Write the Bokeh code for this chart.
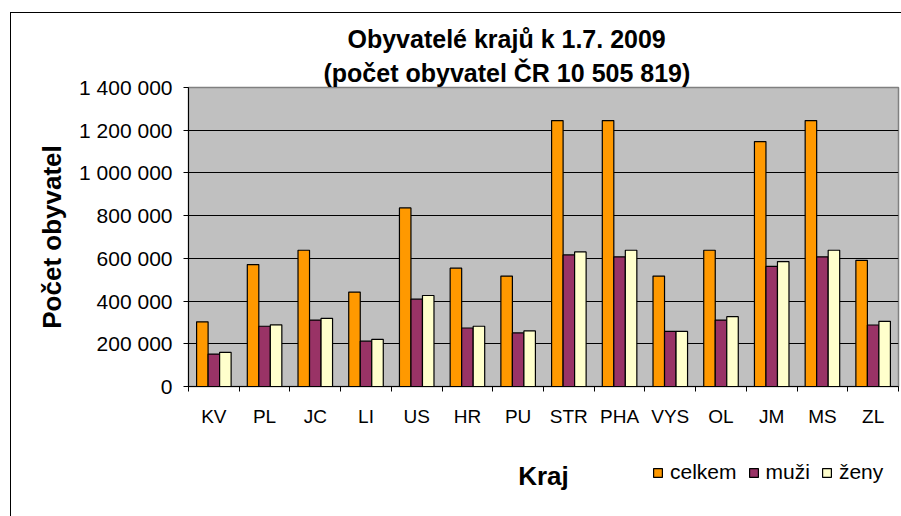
from bokeh.plotting import figure
from bokeh.models import ColumnDataSource, Range1d, FixedTicker, Title, Label, Legend, LegendItem
from bokeh.layouts import column
from bokeh.transform import dodge
from bokeh.embed import file_html
from bokeh.resources import INLINE

categories = ["KV", "PL", "JC", "LI", "US", "HR", "PU", "STR", "PHA", "VYS", "OL", "JM", "MS", "ZL"]
celkem = [303000, 571000, 638000, 442000, 836000, 554000, 517000, 1245000, 1245000, 517000, 638000, 1147000, 1245000, 591000]
muzi = [152000, 282000, 311000, 212000, 409000, 274000, 251000, 616000, 607000, 258000, 311000, 562000, 607000, 288000]
zeny = [160000, 289000, 319000, 221000, 426000, 282000, 260000, 630000, 638000, 258000, 327000, 585000, 638000, 305000]
y_ticks = [0, 200000, 400000, 600000, 800000, 1000000, 1200000, 1400000]
series_keys = ["celkem", "muzi", "zeny"]
series_names = ["celkem", "muži", "ženy"]
series_colors = ["#FF9900", "#993366", "#FFFFCC"]

FONT = "Liberation Sans"
xpos = list(range(1, len(categories) + 1))
src = ColumnDataSource(dict(x=xpos, celkem=celkem, muzi=muzi, zeny=zeny))

W = 890
BL, BR = 177, 3
p = figure(width=W, height=427, output_backend="svg", toolbar_location=None,
           x_range=Range1d(0.5, len(categories) + 0.5), y_range=Range1d(0, y_ticks[-1]),
           min_border_left=BL, min_border_top=74, min_border_bottom=54, min_border_right=BR)
p.background_fill_color = "#C0C0C0"
p.border_fill_color = "white"
p.outline_line_color = "#808080"
p.outline_line_width = 1.5

w = 0.227
for key, off, col in zip(series_keys, [-w, 0, w], series_colors):
    p.vbar(x=dodge("x", off, range=p.x_range), top=key, width=w, source=src,
           fill_color=col, line_color="black", line_width=1.2)

# titles (first added is closest to frame)
p.add_layout(Title(text="(počet obyvatel ČR 10 505 819)", align="left", offset=135,
                   text_font=FONT, text_font_size="25px", text_font_style="bold",
                   text_color="black", standoff=2), "above")
p.add_layout(Title(text="Obyvatelé krajů k 1.7. 2009", align="left", offset=159,
                   text_font=FONT, text_font_size="25px", text_font_style="bold",
                   text_color="black", standoff=5), "above")

# x axis: labels at category centres, ticks between categories
xa = p.xaxis[0]
xa.ticker = FixedTicker(ticks=xpos, minor_ticks=[v - 0.5 for v in xpos] + [len(categories) + 0.5])
xa.major_label_overrides = {v: c for v, c in zip(xpos, categories)}
xa.major_tick_out = 0
xa.major_tick_in = 0
xa.minor_tick_out = 5
xa.minor_tick_in = 0
xa.minor_tick_line_color = "black"
xa.major_label_standoff = 14
xa.major_label_text_font = FONT
xa.major_label_text_font_size = "19px"
xa.major_label_text_color = "black"
xa.axis_line_color = "black"

# y axis
ya = p.yaxis[0]
ya.ticker = FixedTicker(ticks=y_ticks, minor_ticks=[])
ya.major_label_overrides = {v: f"{v:,}".replace(",", " ") for v in y_ticks}
ya.major_tick_out = 5
ya.major_tick_in = 0
ya.major_tick_line_color = "black"
ya.major_label_standoff = 11
ya.major_label_text_font = FONT
ya.major_label_text_font_size = "21px"
ya.major_label_text_color = "black"
ya.axis_line_color = "black"
ya.axis_label = "Počet obyvatel"
ya.axis_label_text_font = FONT
ya.axis_label_text_font_size = "26px"
ya.axis_label_text_font_style = "bold"
ya.axis_label_standoff = 9
ya.axis_label_text_color = "black"

p.xgrid.grid_line_color = None
p.ygrid.grid_line_color = "black"
p.ygrid.grid_line_width = 1

# bottom strip: x-axis title and legend (frame aligned with the main plot's frame)
QH = 76
q = figure(width=W, height=QH, output_backend="svg", toolbar_location=None,
           x_range=Range1d(BL, W - BR), y_range=Range1d(0, QH),
           min_border_left=BL, min_border_right=BR, min_border_top=0, min_border_bottom=0)
q.axis.visible = False
q.grid.grid_line_color = None
q.outline_line_color = None
q.background_fill_color = "white"
q.border_fill_color = "white"

# hidden proxies of the bar series, used only for the legend swatches
items = []
for key, name, col in zip(series_keys, series_names, series_colors):
    r = q.vbar(x="x", top=key, width=w, source=src, fill_color=col,
               line_color="black", line_width=1.2, visible=False)
    items.append(LegendItem(label=name, renderers=[r]))

lg = Legend(items=items, orientation="horizontal", location=(464, 32),
            margin=0, padding=0, spacing=11, glyph_width=11, glyph_height=11,
            label_standoff=7, label_text_font=FONT, label_text_font_size="21px",
            label_text_color="black", border_line_color=None, background_fill_alpha=0,
            inactive_fill_alpha=0)
q.add_layout(lg, "center")

q.add_layout(Label(x=532, y=41, text="Kraj", text_align="center", text_baseline="middle",
                   text_font=FONT, text_font_size="26px", text_font_style="bold",
                   text_color="black"))

layout = column(p, q, spacing=0, margin=(12, 0, 0, 10),
                styles={"border-left": "1px solid black", "border-top": "1px solid black"})

open("out.html", "w").write(file_html(layout, INLINE))
